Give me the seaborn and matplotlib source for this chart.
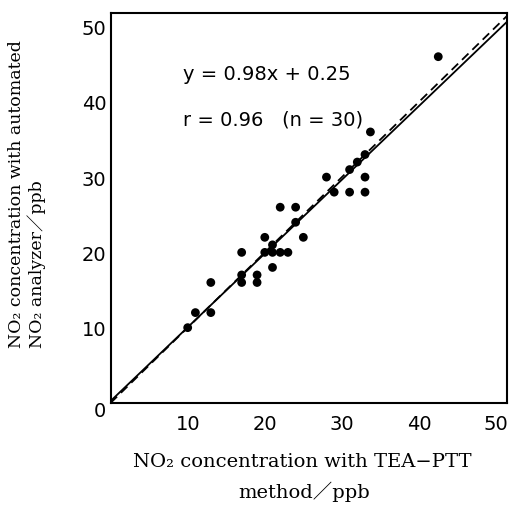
import numpy as np
import pandas as pd
import matplotlib
matplotlib.use("Agg")
import matplotlib.pyplot as plt
import seaborn as sns

# Data
tea_ptt = [10, 11, 13, 13, 17, 17, 17, 19, 19, 20, 20, 21, 21, 21, 22, 23, 22, 24, 24, 25,
           42.5, 33.7, 33, 32, 31, 28, 33, 29, 31, 33]
analyzer = [10, 12, 12, 16, 16, 17, 20, 17, 16, 22, 20, 21, 20, 18, 20, 20, 26, 26, 24, 22,
            46, 36, 33, 32, 31, 30, 30, 28, 28, 28]
slope, intercept = 0.98, 0.25
x_ticks = [0, 10, 20, 30, 40, 50]
y_ticks = [0, 10, 20, 30, 40, 50]
x_tick_labels = ["", "10", "20", "30", "40", "50"]
y_tick_labels = ["", "10", "20", "30", "40", "50"]
origin_label = "0"
eq_text = "y = 0.98x + 0.25"
r_text = "r = 0.96   (n = 30)"
xlabel_lines = ["NO₂ concentration with TEA−PTT", "method／ppb"]
ylabel_lines = ["NO₂ concentration with automated", "NO₂ analyzer／ppb"]

df = pd.DataFrame({"x": tea_ptt, "y": analyzer})

sns.set_theme(style="white")
plt.rcParams['font.family'] = ['DejaVu Sans', 'Noto Sans CJK JP']
plt.rcParams['text.color'] = 'black'
plt.rcParams['axes.labelcolor'] = 'black'
plt.rcParams['xtick.color'] = 'black'
plt.rcParams['ytick.color'] = 'black'

fig = plt.figure(figsize=(5.12, 5.10), dpi=100)
ax = fig.add_axes([0.216, 0.208, 0.774, 0.7645])

xlim = (0, 51.4)
ylim = (0, 51.8)

# regression line (solid) and 1:1 line (dashed)
xs = np.array(xlim)
sns.lineplot(x=xs, y=slope * xs + intercept, ax=ax, color="black", lw=1.3, linestyle="-")
sns.lineplot(x=xs, y=xs, ax=ax, color="black", lw=1.3, linestyle=(0, (5, 3)))

sns.scatterplot(data=df, x="x", y="y", ax=ax, color="black", s=40, edgecolor="none", zorder=5)

ax.set_xlim(*xlim)
ax.set_ylim(*ylim)
ax.set_xticks(x_ticks)
ax.set_yticks(y_ticks)
ax.set_xticklabels(x_tick_labels, fontsize=14, color="black")
ax.set_yticklabels(y_tick_labels, fontsize=14, color="black")
ax.tick_params(axis="x", direction="in", length=6, width=1.3, pad=8, colors="black")
ax.tick_params(axis="y", direction="in", length=10, width=1.3, pad=3, colors="black")
ax.set_xlabel("")
ax.set_ylabel("")
for sp in ax.spines.values():
    sp.set_linewidth(1.5)
    sp.set_color("black")

# single "0" at the origin corner
fig.text(0.195, 0.194, origin_label, fontsize=14, ha="center", va="center", color="black")

ax.text(0.183, 0.844, eq_text, transform=ax.transAxes, fontsize=14, ha="left", va="center", color="black")
ax.text(0.183, 0.728, r_text, transform=ax.transAxes, fontsize=14, ha="left", va="center", color="black")

serif = ['DejaVu Serif', 'Noto Sans CJK JP']
fig.text(0.59, 0.095, xlabel_lines[0], fontsize=14, family=serif, ha="center", va="center", color="black")
fig.text(0.595, 0.035, xlabel_lines[1], fontsize=14, family=serif, ha="center", va="center", color="black")
fig.text(0.033, 0.318, ylabel_lines[0], fontsize=12.5, family=serif, rotation=90, ha="center", va="bottom", color="black")
fig.text(0.071, 0.318, ylabel_lines[1], fontsize=12.5, family=serif, rotation=90, ha="center", va="bottom", color="black")

fig.savefig("out.png", dpi=100)
